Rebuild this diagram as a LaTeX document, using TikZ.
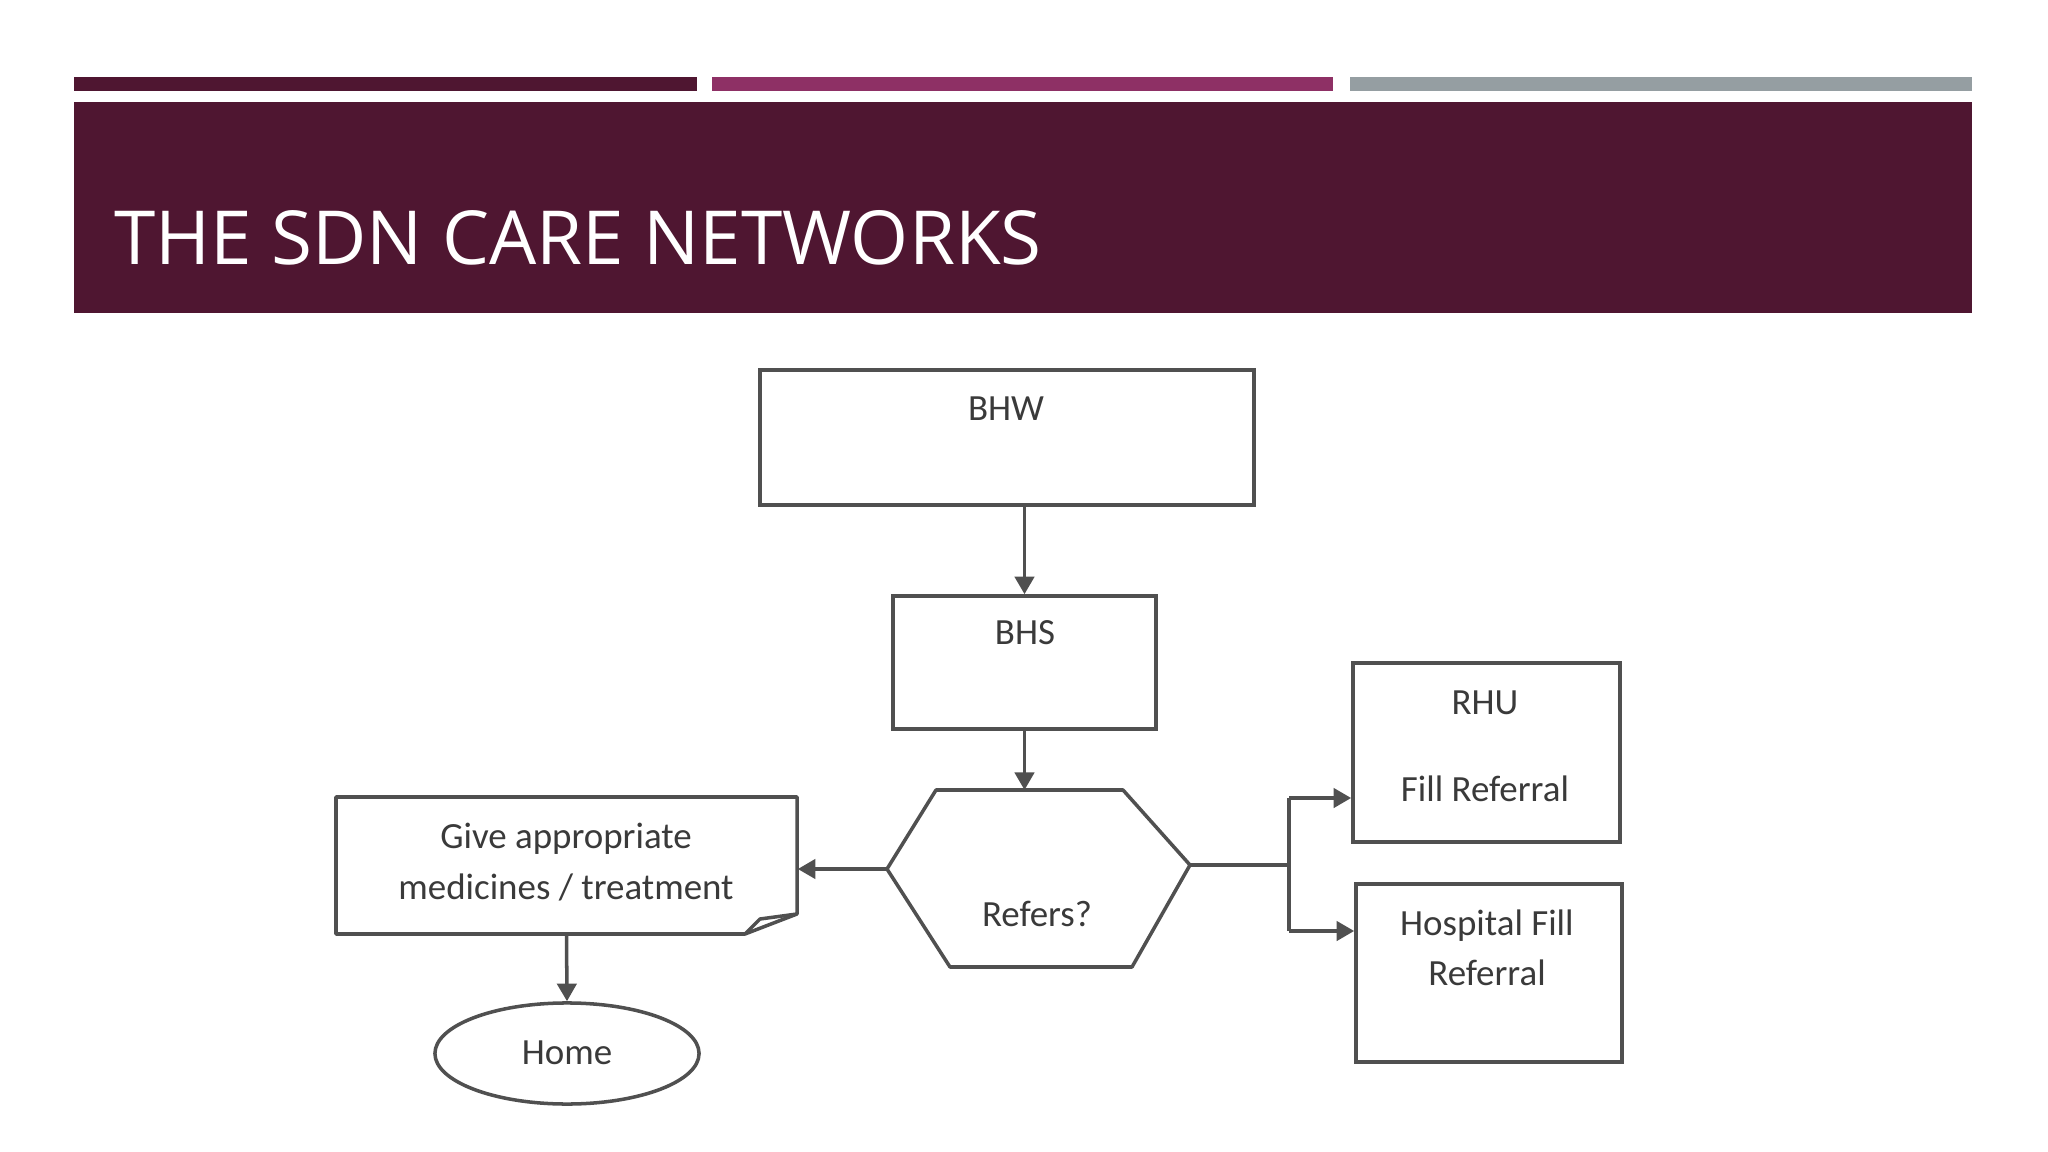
\documentclass[tikz,border=0pt]{standalone}
\usepackage{fontspec}
\setmainfont{Carlito}
\newfontfamily\titlefont{Open Sans}
\usetikzlibrary{arrows.meta,shapes.geometric}
\definecolor{plum}{HTML}{4F1631}
\definecolor{magen}{HTML}{8E3065}
\definecolor{slate}{HTML}{959EA2}
\definecolor{ink}{HTML}{505050}
\definecolor{txt}{HTML}{3A3A3A}
\tikzset{
  box/.style={draw=ink, line width=1pt, rectangle, inner sep=0pt},
  oval/.style={draw=ink, line width=1pt, ellipse, inner sep=0pt},
  lbl/.style={text=txt, font=\fontsize{10.5pt}{12pt}\selectfont, anchor=base, inner sep=0pt},
  conn/.style={draw=ink, line width=1pt},
  arr/.style={conn, -{Triangle[length=5pt,width=5.5pt]}}
}
\begin{document}
\begin{tikzpicture}[x=0.01cm,y=-0.01cm]
\useasboundingbox (0,0) rectangle (2048,1152);
\fill[white] (0,0) rectangle (2048,1152);
% header bars
\fill[plum] (74,77) rectangle (697,91);
\fill[magen] (712,77) rectangle (1333,91);
\fill[slate] (1350,77) rectangle (1972,91);
\fill[plum] (74,102) rectangle (1972,313);
\node[anchor=base west, inner sep=0pt, text=white, font=\titlefont\fontsize{21.2pt}{24pt}\selectfont] (title) at (114,265) {THE SDN CARE NETWORKS};

% boxes
\node[box, minimum width=4.94cm, minimum height=1.35cm] (bhw) at (1007,437.5) {};
\node[box, minimum width=2.63cm, minimum height=1.33cm] (bhs) at (1024.5,662.5) {};
\node[box, minimum width=2.67cm, minimum height=1.79cm] (rhu) at (1486.5,752.5) {};
\node[box, minimum width=2.66cm, minimum height=1.78cm] (hosp) at (1489,973) {};
\node[oval, minimum width=2.64cm, minimum height=1.01cm] (home) at (567,1053.5) {};
\node[minimum width=4.61cm, minimum height=1.37cm, inner sep=0pt] (give) at (566.5,865.5) {};

% document shape for "give"
\draw[conn, line join=round] (745,934) -- (336,934) -- (336,797) -- (797,797) -- (797,914) -- cycle;
\draw[conn, line join=round] (745,934) -- (760,919) -- (797,914);

% hexagon
\coordinate (hexT) at (1027,790);
\coordinate (hexL) at (887,869);
\coordinate (hexR) at (1190,865);
\draw[conn, line join=round] (936,790) -- (1123,790) -- (hexR) -- (1132,967) -- (950,967) -- (hexL) -- cycle;

% labels
\node[lbl] (tbhw) at (1006,421) {BHW};
\node[lbl] (tbhs) at (1025,645) {BHS};
\node[lbl] (tref) at (1037,926) {Refers?};
\node[lbl] (tgive1) at (566,848) {Give appropriate};
\node[lbl] (tgive2) at (566,899) {medicines / treatment};
\node[lbl] (thome) at (567,1064) {Home};
\node[lbl] (trhu1) at (1485,715) {RHU};
\node[lbl] (trhu2) at (1485,801) {Fill Referral};
\node[lbl] (thosp1) at (1487,935) {Hospital Fill};
\node[lbl] (thosp2) at (1487,985) {Referral};

% connectors
\draw[arr] (bhw.south -| bhs.north) -- (bhs.north);
\draw[arr] (bhs.south) -- (bhs.south |- hexT);
\draw[arr] (hexL) -- (give.east |- hexL);
\draw[arr] (give.south) -- (home.north);
\coordinate (jm) at (1289,865);
\coordinate (j1) at (1289,798);
\coordinate (j2) at (1289,931);
\draw[conn] (hexR) -- (jm);
\draw[conn] (j1) -- (j2);
\draw[arr] (j1) -- (rhu.west |- j1);
\draw[arr] (j2) -- (hosp.west |- j2);
\end{tikzpicture}
\end{document}
